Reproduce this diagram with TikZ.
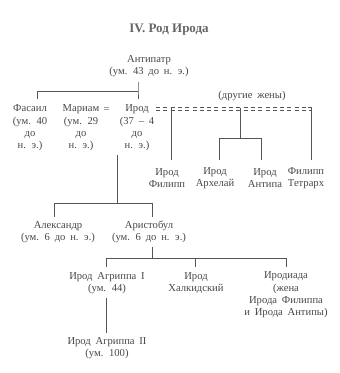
\documentclass[tikz,border=0pt]{standalone}
\usepackage{fontspec}
\setmainfont[WordSpace=1.8]{Liberation Serif}
\newfontfamily\ttlfont{Liberation Serif}
\definecolor{ink}{HTML}{484848}
\definecolor{lnk}{HTML}{555555}
\definecolor{ttl}{HTML}{666666}
\tikzset{
  txt/.style={align=center, inner sep=0pt, text=ink, font=\fontsize{10.6}{12.3}\selectfont},
  ln/.style={draw=lnk, line width=0.75pt},
  dbl/.style={draw=lnk, line width=0.65pt, dash pattern=on 4pt off 3.3pt},
}
\begin{document}
\begin{tikzpicture}[x=1pt,y=-1pt]
\useasboundingbox (0,0) rectangle (340,373);
\fill[white] (0,0) rectangle (340,373);
% title
\node[txt, text=ttl, font=\ttlfont\fontsize{13}{15}\selectfont\bfseries] (title) at (169,30) {IV. Род Ирода};
% nodes
\node[txt] (ant) at (149,66) {Антипатр\\(ум. 43 до н. э.)};
\node[txt] (fas) at (30,128) {Фасаил\\(ум. 40\\до\\н. э.)};
\node[txt] (mar) at (81,128) {Мариам\\(ум. 29\\до\\н. э.)};
\node[txt] (eq) at (106.5,110.5) {=};
\node[txt] (irod) at (137,128) {Ирод\\(37 – 4\\до\\н. э.)};
\node[txt] (wives) at (252,96) {(другие жены)};
\node[txt] (fil) at (167,178) {Ирод\\Филипп};
\node[txt] (arch) at (215,178) {Ирод\\Архелай};
\node[txt] (antipa) at (265,178) {Ирод\\Антипа};
\node[txt] (tetr) at (306,178) {Филипп\\Тетрарх};
\node[txt] (alex) at (58,232) {Александр\\(ум. 6 до н. э.)};
\node[txt] (arist) at (149,232) {Аристобул\\(ум. 6 до н. э.)};
\node[txt] (agr1) at (107,283) {Ирод Агриппа I\\(ум. 44)};
\node[txt] (halk) at (196,283) {Ирод\\Халкидский};
\node[txt] (herod) at (286,295) {Иродиада\\(жена\\Ирода Филиппа\\и Ирода Антипы)};
\node[txt] (agr2) at (107,348) {Ирод Агриппа II\\(ум. 100)};
% junctions
\coordinate (j1) at (138,91);
\coordinate (w1) at (171,109);
\coordinate (w2) at (240,109);
\coordinate (w3) at (311,109);
\coordinate (j2) at (240,138);
\coordinate (j3) at (117,203);
\coordinate (j4) at (152,258);
% Antipater
\draw[ln] (138,82) -- (j1) -- (138,99);
\draw[ln] (j1) -- (37,91) -- (37,99);
% double dashed line (other wives)
\draw[dbl] (156,107.8) -- (311,107.8);
\draw[dbl] (156,110.4) -- (311,110.4);
\draw[ln] (w3) ++(-3,-1.2) -- ++(3,0) -- (311,160);
\draw[ln] (w1) ++(0,-1.2) -- (171,160);
\draw[ln] (w2) ++(0,-1.2) -- (j2);
\draw[ln] (219,160) -- (219,138) -- (261,138) -- (261,160);
% Herod & Mariamne children
\draw[ln] (117,155) -- (j3);
\draw[ln] (54,217) -- (54,203) -- (152,203) -- (152,217);
% Aristobulus children
\draw[ln] (152,247) -- (j4);
\draw[ln] (106,267) -- (106,258) -- (286,258) -- (286,267);
\draw[ln] (195,258) -- (195,267);
% Agrippa I -> II
\draw[ln] (106,298) -- (106,333);
\end{tikzpicture}
\end{document}
